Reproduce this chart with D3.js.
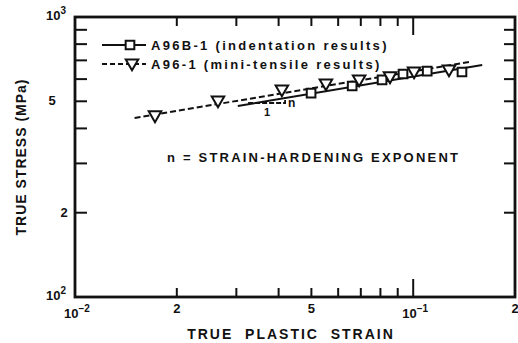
<!DOCTYPE html>
<html>
<head>
<meta charset="utf-8">
<script src="https://cdn.jsdelivr.net/npm/d3@7"></script>
<style>
  body { margin: 0; background: #fff; }
  text { font-family: "Liberation Sans", Arial, sans-serif; font-weight: bold; fill: #111; }
</style>
</head>
<body>
<div id="chart"></div>
<script>
// A96B-1 indentation results (squares)
const indentStrain = [0.0499, 0.066, 0.0809, 0.0933, 0.11, 0.1394];
const indentStress = [535, 567, 596, 626, 641, 636];
// A96-1 mini-tensile results (down triangles)
const tensileStrain = [0.01724, 0.02647, 0.0409, 0.0552, 0.0692, 0.0854, 0.1006, 0.1276];
const tensileStress = [447, 505, 553, 581, 600, 616, 641, 652];
// fitted lines (end points)
const indentFitStrain = [0.0303, 0.16];
const indentFitStress = [481, 674];
const tensileFitStrain = [0.015, 0.147];
const tensileFitStress = [436, 691];

const xTickVals = [0.02, 0.03, 0.04, 0.05, 0.06, 0.07, 0.08, 0.09, 0.1];
const xLabels = [[0.01, "10", "\u22122"], [0.02, "2", ""], [0.05, "5", ""], [0.1, "10", "\u22121"], [0.2, "2", ""]];
const yTickVals = [200, 300, 400, 500, 600, 700, 800, 900];
const yLabels = [[100, "10", "2"], [200, "2", ""], [500, "5", ""], [1000, "10", "3"]];

const width = 518, height = 343;
const margin = { left: 75, right: 3, top: 17, bottom: 46 };

const svg = d3.select("#chart").append("svg")
    .attr("width", width)
    .attr("height", height);

const x = d3.scaleLog().domain([0.01, 0.2]).range([margin.left, width - margin.right]);
const y = d3.scaleLog().domain([100, 1000]).range([height - margin.bottom, margin.top]);

const x0 = x.range()[0], x1 = x.range()[1];
const y0 = y.range()[0], y1 = y.range()[1];

// ticks (all pointing inward)
const ticks = svg.append("g").attr("stroke", "#111").attr("stroke-width", 2);
xTickVals.forEach(v => {
    const len = v === 0.1 ? 18 : 9;
    ticks.append("line").attr("x1", x(v)).attr("x2", x(v)).attr("y1", y0).attr("y2", y0 - len);
    ticks.append("line").attr("x1", x(v)).attr("x2", x(v)).attr("y1", y1).attr("y2", y1 + len);
});
yTickVals.forEach(v => {
    ticks.append("line").attr("x1", x0).attr("x2", x0 + 12).attr("y1", y(v)).attr("y2", y(v));
    ticks.append("line").attr("x1", x1).attr("x2", x1 - 11).attr("y1", y(v)).attr("y2", y(v));
});

// frame
svg.append("rect")
    .attr("x", x0).attr("y", y1)
    .attr("width", x1 - x0).attr("height", y0 - y1)
    .attr("fill", "none").attr("stroke", "#111").attr("stroke-width", 2.8);

// tick labels
xLabels.forEach(([v, base, sup]) => {
    const t = svg.append("text")
        .attr("x", x(v) + (sup ? 2 : 0)).attr("y", y0 + (sup ? 21 : 16))
        .attr("text-anchor", "middle")
        .attr("font-size", 13);
    t.append("tspan").text(base);
    if (sup) t.append("tspan").attr("dy", -6).attr("font-size", 10).text(sup);
});
yLabels.forEach(([v, base, sup]) => {
    const t = svg.append("text")
        .attr("x", sup ? 56 : (v === 500 ? 52 : 64))
        .attr("y", y(v) + (sup ? 3 : 4))
        .attr("text-anchor", "middle")
        .attr("font-size", 13);
    t.append("tspan").text(base);
    if (sup) t.append("tspan").attr("dy", -6).attr("font-size", 10).text(sup);
});

// axis titles
svg.append("text")
    .attr("x", 291).attr("y", 339)
    .attr("text-anchor", "middle")
    .attr("font-size", 14)
    .attr("letter-spacing", 2)
    .attr("xml:space", "preserve")
    .text("TRUE  PLASTIC  STRAIN");
svg.append("text")
    .attr("transform", "translate(26,157) rotate(-90)")
    .attr("text-anchor", "middle")
    .attr("font-size", 14)
    .attr("letter-spacing", 1)
    .text("TRUE STRESS (MPa)");

const line = d3.line().x(d => x(d[0])).y(d => y(d[1]));

// fit lines
svg.append("path")
    .datum(d3.zip(indentFitStrain, indentFitStress))
    .attr("d", line)
    .attr("fill", "none").attr("stroke", "#111").attr("stroke-width", 2);
svg.append("path")
    .datum(d3.zip(tensileFitStrain, tensileFitStress))
    .attr("d", line)
    .attr("fill", "none").attr("stroke", "#111").attr("stroke-width", 2)
    .attr("stroke-dasharray", "6,3");

// markers
const square = d3.symbol().type(d3.symbolSquare).size(75);
const triDown = d3.symbol().type(d3.symbolTriangle).size(68);

svg.append("g").selectAll("path")
    .data(d3.zip(indentStrain, indentStress))
    .enter().append("path")
    .attr("d", square)
    .attr("transform", d => `translate(${x(d[0])},${y(d[1])})`)
    .attr("fill", "#fff").attr("stroke", "#111").attr("stroke-width", 2);

svg.append("g").selectAll("path")
    .data(d3.zip(tensileStrain, tensileStress))
    .enter().append("path")
    .attr("d", triDown)
    .attr("transform", d => `translate(${x(d[0])},${y(d[1])}) rotate(180)`)
    .attr("fill", "#fff").attr("stroke", "#111").attr("stroke-width", 2);

// slope triangle
const slopeX = [0.0325, 0.0418];
const slopeY = [493, 518];
svg.append("path")
    .attr("d", `M${x(slopeX[0])},${y(slopeY[0])}H${x(slopeX[1])}V${y(slopeY[1])}`)
    .attr("fill", "none").attr("stroke", "#111").attr("stroke-width", 1.8)
    .attr("stroke-dasharray", "5,2");
svg.append("text").attr("x", x(slopeX[1]) + 3).attr("y", y(slopeY[0]) + 4)
    .attr("font-size", 12).text("n");
svg.append("text").attr("x", 264).attr("y", 116)
    .attr("font-size", 11).text("1");

// legend
const legend = svg.append("g");
legend.append("line").attr("x1", 102).attr("x2", 146).attr("y1", 45).attr("y2", 45)
    .attr("stroke", "#111").attr("stroke-width", 2);
legend.append("path").attr("d", square).attr("transform", "translate(130,45)")
    .attr("fill", "#fff").attr("stroke", "#111").attr("stroke-width", 2);
legend.append("line").attr("x1", 102).attr("x2", 146).attr("y1", 64).attr("y2", 64)
    .attr("stroke", "#111").attr("stroke-width", 2).attr("stroke-dasharray", "5,3");
legend.append("path").attr("d", triDown).attr("transform", "translate(132,63) rotate(180)")
    .attr("fill", "#fff").attr("stroke", "#111").attr("stroke-width", 2);
legend.append("text").attr("x", 151).attr("y", 49.5)
    .attr("font-size", 13).attr("letter-spacing", 2.3)
    .text("A96B-1 (indentation results)");
legend.append("text").attr("x", 151).attr("y", 68.5)
    .attr("font-size", 13).attr("letter-spacing", 2.3)
    .text("A96-1 (mini-tensile results)");

// annotation
svg.append("text").attr("x", 167).attr("y", 161.5)
    .attr("font-size", 13).attr("letter-spacing", 2.2)
    .text("n = STRAIN-HARDENING EXPONENT");
</script>
</body>
</html>
